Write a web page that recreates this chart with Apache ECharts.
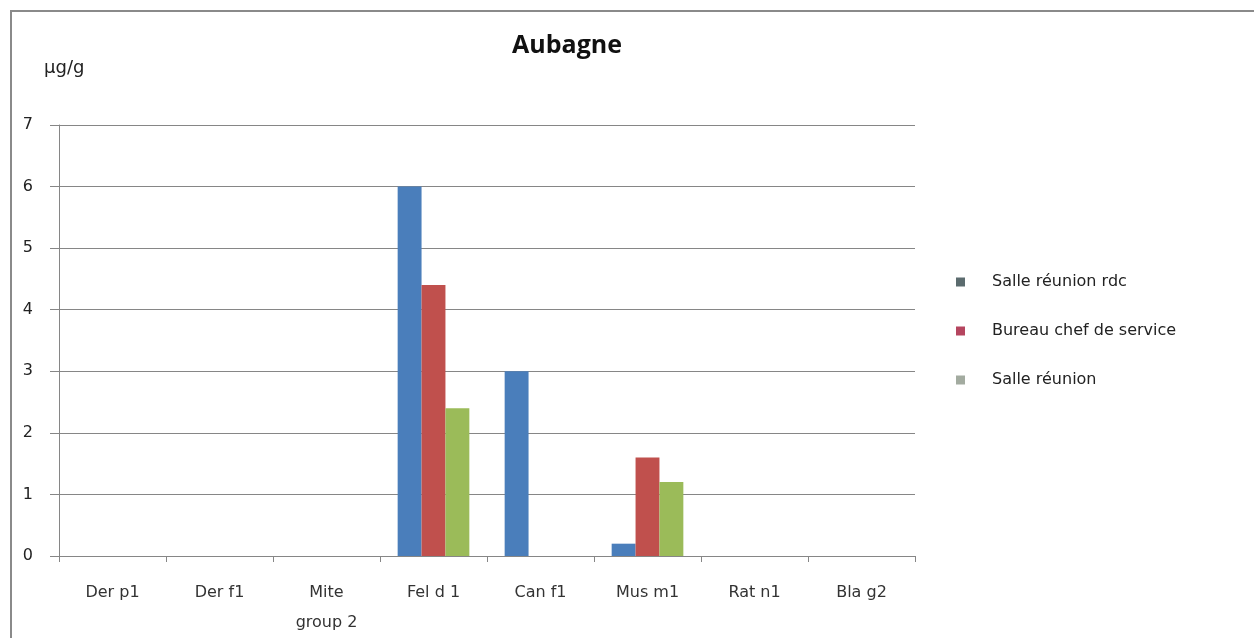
<!DOCTYPE html>
<html>
<head>
<meta charset="utf-8">
<title>Aubagne</title>
<script src="https://cdn.jsdelivr.net/npm/echarts@6/dist/echarts.min.js"></script>
<style>
  html, body { margin: 0; padding: 0; background: #fff; }
  #chart { width: 1254px; height: 638px; }
</style>
</head>
<body>
<div id="chart"></div>
<script>
// Allergen categories along the x axis
const categories = ['Der p1', 'Der f1', 'Mite\ngroup 2', 'Fel d 1', 'Can f1', 'Mus m1', 'Rat n1', 'Bla g2'];

// Concentrations (µg/g) per sampling room
const salleReunionRdc = [0, 0, 0, 6.0, 3.0, 0.2, 0, 0];
const bureauChefService = [0, 0, 0, 4.4, 0, 1.6, 0, 0];
const salleReunion = [0, 0, 0, 2.4, 0, 1.2, 0, 0];

const seriesNames = ['Salle réunion rdc', 'Bureau chef de service', 'Salle réunion'];
const yTicks = [0, 1, 2, 3, 4, 5, 6, 7];

const barColors = ['#4a7ebb', '#c0504d', '#9bbb59'];
const legendColors = ['#5b6b6e', '#b5455f', '#a3aba0'];
const font = 'DejaVu Sans, sans-serif';
const titleFont = 'Open Sans, sans-serif';

const chart = echarts.init(document.getElementById('chart'), null, { renderer: 'canvas' });

const values = [salleReunionRdc, bureauChefService, salleReunion];

chart.setOption({
  animation: false,
  backgroundColor: '#ffffff',
  title: {
    text: 'Aubagne',
    left: 562,
    top: 28,
    textAlign: 'center',
    textStyle: { fontFamily: titleFont, fontSize: 25, fontWeight: 'bold', color: '#111' }
  },
  legend: {
    orient: 'vertical',
    left: 951,
    top: 267,
    itemGap: 29,
    itemWidth: 9,
    itemHeight: 9,
    icon: 'rect',
    textStyle: { fontFamily: font, fontSize: 16, color: '#222', lineHeight: 20, padding: [0, 0, 0, 22] },
    data: seriesNames.map((n, i) => ({ name: n, itemStyle: { color: legendColors[i] } }))
  },
  grid: { left: 59, right: 339, top: 125, bottom: 82, containLabel: false, outerBoundsMode: 'none' },
  xAxis: {
    type: 'category',
    data: categories,
    axisLine: { show: true, lineStyle: { color: '#868686', width: 1 } },
    axisTick: { show: true, alignWithLabel: false, length: 6, lineStyle: { color: '#868686' } },
    axisLabel: { fontFamily: font, fontSize: 16, color: '#333', margin: 22, lineHeight: 30 }
  },
  yAxis: {
    type: 'value',
    min: 0,
    max: 7,
    interval: 1,
    name: 'µg/g',
    nameLocation: 'end',
    nameGap: 48,
    nameTextStyle: { fontFamily: font, fontSize: 18, color: '#222', align: 'left', padding: [0, 0, 0, -15] },
    axisLine: { show: true, lineStyle: { color: '#868686', width: 1 } },
    axisTick: { show: true, length: 9, lineStyle: { color: '#868686' } },
    axisLabel: {
      fontFamily: font, fontSize: 16, color: '#222', margin: 26,
      formatter: v => (yTicks.includes(v) ? String(v) : '')
    },
    splitLine: { show: true, lineStyle: { color: '#868686', width: 1 } }
  },
  series: seriesNames.map((name, i) => ({
    name,
    type: 'bar',
    data: values[i],
    barGap: '0%',
    barCategoryGap: '33%',
    itemStyle: { color: barColors[i] }
  })),
  graphic: [
    {
      type: 'polyline',
      shape: { points: [[11, 638], [11, 11], [1254, 11]] },
      style: { stroke: '#8a8a8a', lineWidth: 2, fill: null }
    }
  ]
});
</script>
</body>
</html>
